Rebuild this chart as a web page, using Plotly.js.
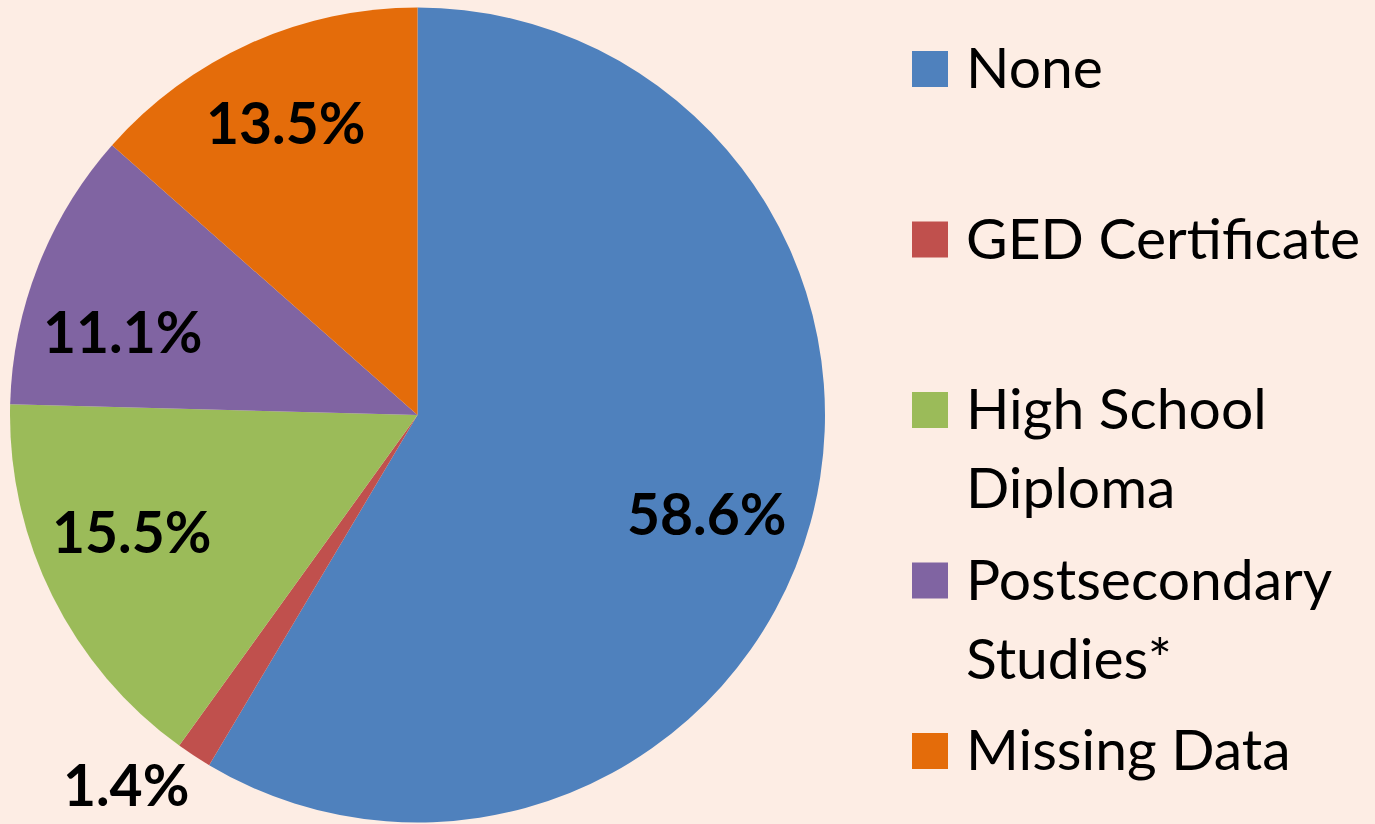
<!DOCTYPE html>
<html>
<head>
<meta charset="utf-8">
<script src="https://cdn.plot.ly/plotly-3.0.1.min.js"></script>
<style>
  html, body { margin: 0; padding: 0; background: #FDEDE4; }
  #chart { width: 1375px; height: 824px; }
</style>
</head>
<body>
<div id="chart"></div>
<script>
// ---- data ----
const categories = ["None", "GED Certificate", "High School Diploma", "Postsecondary Studies*", "Missing Data"];
const legendText = ["None", "GED Certificate", "High School<br>Diploma", "Postsecondary<br>Studies*", "Missing Data"];
const values = [58.6, 1.4, 15.5, 11.1, 13.5];
const valueLabels = ["58.6%", "1.4%", "15.5%", "11.1%", "13.5%"];

// ---- style ----
const colors = ["#4F81BD", "#C0504D", "#9BBB59", "#8064A2", "#E46C0A"];
const bg = "#FDEDE4";
const W = 1375, H = 824;
const cx = 417.5, cy = 415, R = 407.5;             // pie geometry in px
const labelRadius = [0.76, 1.19, 0.76, 0.76, 0.76]; // fraction of radius
const labelNudge = [[-10, 16], [-26, -36], [-8, -21], [-7, 29], [-5, -11]];
const labelFont = {family: "Lato, 'Open Sans', sans-serif", size: 57, color: "#000"};
const legendFont = {family: "Lato, 'Open Sans', sans-serif", size: 57, color: "#000"};

const px2x = p => p / W;
const px2y = p => 1 - p / H;

const trace = {
  type: "pie",
  labels: categories,
  values: values,
  sort: false,
  direction: "clockwise",
  rotation: 0,
  marker: {colors: colors, line: {width: 0}},
  textinfo: "none",
  hoverinfo: "label+percent",
  showlegend: false,
  domain: {x: [px2x(cx - R), px2x(cx + R)], y: [px2y(cy + R), px2y(cy - R)]}
};

const annotations = [];
const shapes = [];
const total = values.reduce((a, b) => a + b, 0);
let cum = 0;
values.forEach((v, i) => {
  const mid = (cum + v / 2) / total;
  cum += v;
  const th = 2 * Math.PI * mid;
  const px = cx + labelRadius[i] * R * Math.sin(th) + labelNudge[i][0];
  const py = cy - labelRadius[i] * R * Math.cos(th) + labelNudge[i][1];
  annotations.push({
    x: px2x(px), y: px2y(py), xref: "paper", yref: "paper",
    xanchor: "center", yanchor: "middle", showarrow: false,
    text: "<b>" + valueLabels[i] + "</b>", font: labelFont
  });
});

// custom legend
const legX = 912, sq = 36, textX = 964, row0 = 69, rowStep = 170.5, lineStep = 79;
legendText.forEach((t, i) => {
  const yc = row0 + i * rowStep;
  shapes.push({
    type: "rect", xref: "paper", yref: "paper",
    x0: px2x(legX), x1: px2x(legX + sq), y0: px2y(yc + sq / 2), y1: px2y(yc - sq / 2),
    fillcolor: colors[i], line: {width: 0}
  });
  t.split("<br>").forEach((line, j) => {
    annotations.push({
      x: px2x(textX), y: px2y(yc - 3 + j * lineStep), xref: "paper", yref: "paper",
      xanchor: "left", yanchor: "middle", showarrow: false,
      text: line, font: legendFont
    });
  });
});

const layout = {
  width: W, height: H,
  margin: {l: 0, r: 0, t: 0, b: 0},
  paper_bgcolor: bg, plot_bgcolor: bg,
  showlegend: false,
  annotations: annotations,
  shapes: shapes
};

Plotly.newPlot("chart", [trace], layout, {displayModeBar: false, staticPlot: true});
</script>
</body>
</html>
